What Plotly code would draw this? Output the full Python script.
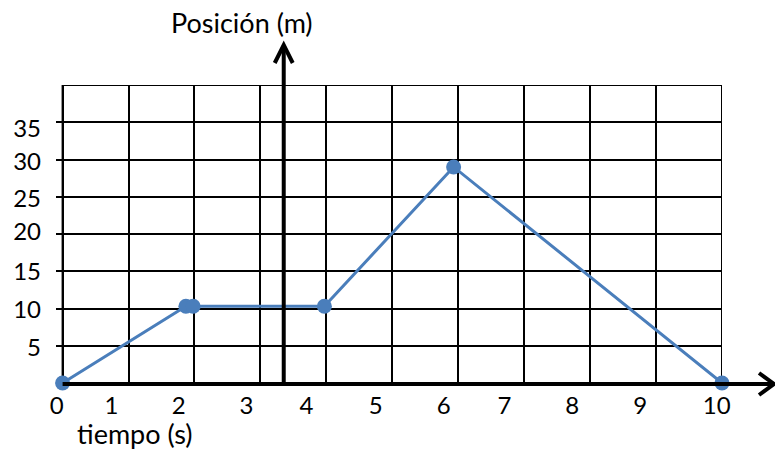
import plotly.graph_objects as go

# Data
tiempo = [0, 1.87, 1.98, 3.97, 5.93, 10]
posicion = [0, 10.3, 10.3, 10.3, 29, 0]

x_tick_labels = ["0", "1", "2", "3", "4", "5", "6", "7", "8", "9", "10"]
x_tick_pos = [-0.09, 0.74, 1.76, 2.79, 3.70, 4.75, 5.78, 6.70, 7.73, 8.76, 9.92]
y_tick_labels = ["5", "10", "15", "20", "25", "30", "35"]
y_tick_pos = [4.7, 9.8, 14.9, 20.3, 24.7, 29.7, 34.2]

FONT = "Lato"
BLUE = "#4A7EBB"

fig = go.Figure()
fig.add_trace(go.Scatter(
    x=tiempo, y=posicion, mode="lines+markers",
    line=dict(color=BLUE, width=3),
    marker=dict(color=BLUE, size=15),
    cliponaxis=False, showlegend=False,
))

# plot area in pixels: x 56.4..722 (range -0.1..10), y 85..383
W, H = 775, 449
XMIN = -0.1
UNIT = (722 - 63) / 10.0
L = 63 + XMIN * UNIT
R, T, B = 775 - 722, 85, 449 - 383
pw, ph = W - L - R, H - T - B

def px(xp):
    return (xp - L) / pw

def py(yp):
    return (H - B - yp) / ph

shapes = []
# outer frame
shapes.append(dict(type="rect", xref="x", yref="y", x0=0, x1=10, y0=0, y1=40,
                   line=dict(color="black", width=2), layer="below"))
# x axis (thick) with arrow
shapes.append(dict(type="line", xref="paper", yref="paper", x0=px(63), x1=px(772), y0=py(384), y1=py(384),
                   line=dict(color="black", width=4)))
shapes.append(dict(type="path", xref="paper", yref="paper",
                   path=f"M {px(759)},{py(373)} L {px(774)},{py(384)} L {px(759)},{py(395)}",
                   line=dict(color="black", width=4)))
# y axis (thick) with arrow
shapes.append(dict(type="line", xref="paper", yref="paper", x0=px(284), x1=px(284), y0=py(384), y1=py(46),
                   line=dict(color="black", width=4)))
shapes.append(dict(type="path", xref="paper", yref="paper",
                   path=f"M {px(275)},{py(63)} L {px(284)},{py(45)} L {px(293)},{py(63)}",
                   line=dict(color="black", width=4)))

fig.update_layout(
    width=W, height=H,
    margin=dict(l=L, r=R, t=T, b=B, pad=0),
    paper_bgcolor="white", plot_bgcolor="white",
    font=dict(family=FONT, size=24, color="black"),
    shapes=shapes,
    xaxis=dict(range=[XMIN, 10], showgrid=False, zeroline=False, showline=False,
               tickmode="array", tickvals=x_tick_pos, ticktext=x_tick_labels,
               ticks="", ticklabelstandoff=6,
               minor=dict(dtick=1, tick0=0, showgrid=True, gridcolor="black", gridwidth=2, ticks="")),
    yaxis=dict(range=[0, 40], showgrid=False, zeroline=False, showline=False,
               tickmode="array", tickvals=y_tick_pos, ticktext=y_tick_labels,
               ticks="", ticklabelstandoff=14,
               minor=dict(dtick=5, tick0=0, showgrid=True, gridcolor="black", gridwidth=2, ticks="")),
    annotations=[
        dict(text="Posición (m)", xref="paper", yref="paper", x=px(242), y=py(23),
             showarrow=False, xanchor="center", yanchor="middle", font=dict(size=27)),
        dict(text="tiempo (s)", xref="paper", yref="paper", x=px(135), y=py(433),
             showarrow=False, xanchor="center", yanchor="middle", font=dict(size=27)),
    ],
)

fig.write_html("out.html", config={"displayModeBar": False},
               post_script="document.body.style.margin='0';")
